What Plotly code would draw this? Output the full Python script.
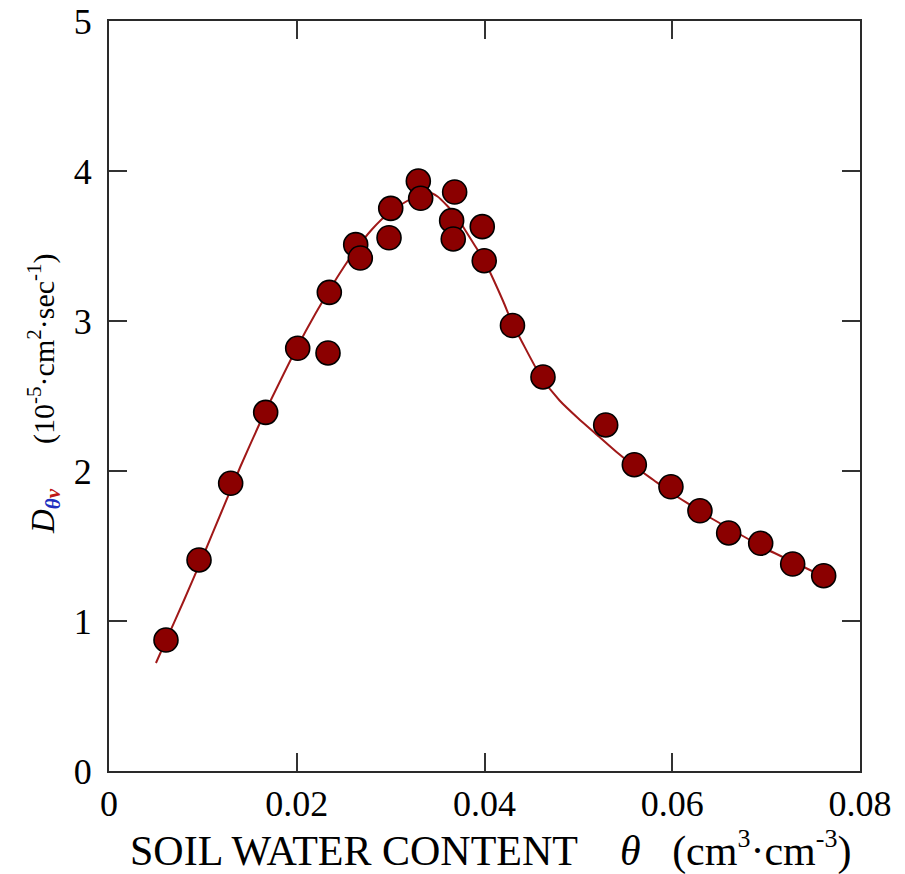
import plotly.graph_objects as go

# Measured points: soil water content (cm3/cm3) vs vapor diffusivity (1e-5 cm2/s)
theta_obs = [0.00607, 0.00959, 0.01296, 0.01669, 0.02010, 0.02333, 0.02347, 0.02628,
             0.02677, 0.03001, 0.02983, 0.03295, 0.03320, 0.03682, 0.03650, 0.03667,
             0.03976, 0.03997, 0.04298, 0.04623, 0.05291, 0.05596, 0.05986, 0.06295,
             0.06601, 0.06942, 0.07283, 0.07613]
d_obs = [0.873, 1.407, 1.918, 2.391, 2.818, 2.787, 3.191, 3.509,
         3.420, 3.751, 3.555, 3.933, 3.818, 3.860, 3.669, 3.547,
         3.629, 3.402, 2.970, 2.627, 2.307, 2.042, 1.895, 1.735,
         1.587, 1.518, 1.380, 1.302]

# Fitted curve
theta_fit = [0.005, 0.006, 0.008, 0.010, 0.012, 0.014, 0.016, 0.018, 0.020, 0.022,
             0.024, 0.026, 0.028, 0.030, 0.032, 0.033, 0.034, 0.035, 0.036, 0.037,
             0.038, 0.039, 0.040, 0.041, 0.042, 0.043, 0.044, 0.046, 0.048, 0.050,
             0.052, 0.054, 0.056, 0.058, 0.060, 0.062, 0.064, 0.066, 0.068, 0.070,
             0.072, 0.074, 0.076]
d_fit = [0.72, 0.86, 1.14, 1.43, 1.73, 2.03, 2.31, 2.57, 2.82, 3.05,
         3.26, 3.45, 3.61, 3.73, 3.81, 3.85, 3.86, 3.83, 3.77, 3.70,
         3.60, 3.50, 3.40, 3.27, 3.13, 2.98, 2.86, 2.63, 2.47, 2.35,
         2.24, 2.13, 2.03, 1.94, 1.85, 1.77, 1.69, 1.62, 1.55, 1.48,
         1.42, 1.36, 1.30]

x_ticks = [0, 0.02, 0.04, 0.06, 0.08]
x_ticktext = ["0", "0.02", "0.04", "0.06", "0.08"]
y_ticks = [0, 1, 2, 3, 4, 5]
y_ticktext = ["0", "1", "2", "3", "4", "5"]

x_title = ("SOIL WATER CONTENT&nbsp;&nbsp;&nbsp;&nbsp;<i>θ</i>&nbsp;&nbsp;&nbsp;"
           "(cm<sup><span style='font-size:26px'>3</span></sup>·cm"
           "<sup><span style='font-size:26px'>-3</span></sup>)")
y_title = ("<i><span style='font-size:33px'>D</span><sub><b>"
           "<span style='color:#2030c0'>θ</span><span style='color:#c01818'>v</span></b></sub></i>"
           "&nbsp;&nbsp;&nbsp;&nbsp;&nbsp;&nbsp;"
           "(10<sup>-5</sup>·cm<sup>2</sup>·sec<sup>-1</sup>)")

SERIF = "Liberation Serif, Times New Roman, serif"
DARKRED = "#8b0000"

fig = go.Figure()
fig.add_trace(go.Scatter(
    x=theta_fit, y=d_fit, mode="lines",
    line=dict(color="#a01818", width=2, shape="spline", smoothing=0.6),
    hoverinfo="skip", showlegend=False))
fig.add_trace(go.Scatter(
    x=theta_obs, y=d_obs, mode="markers",
    marker=dict(size=24, color=DARKRED, line=dict(color="black", width=1.6)),
    showlegend=False))

axis_common = dict(
    showgrid=False, zeroline=False, showline=True, linecolor="#2a2a2a", linewidth=2,
    mirror="allticks", ticks="inside", ticklen=18, tickwidth=2, tickcolor="#333",
    tickfont=dict(family=SERIF, size=36, color="black"), automargin=False,
)

fig.update_layout(
    width=905, height=874,
    margin=dict(l=109, r=45, t=21, b=103),
    paper_bgcolor="white", plot_bgcolor="white",
    xaxis=dict(range=[0, 0.08], tickvals=x_ticks, ticktext=x_ticktext,
               ticklabelstandoff=0, **axis_common),
    yaxis=dict(range=[0, 5], tickvals=y_ticks, ticktext=y_ticktext,
               ticklabelstandoff=8, **axis_common),
    annotations=[
        dict(text=x_title, xref="paper", yref="paper", x=0.5, y=0,
             xanchor="center", yanchor="middle", xshift=6, yshift=-78,
             showarrow=False, font=dict(family=SERIF, size=42, color="black")),
        dict(text=y_title, xref="paper", yref="paper", x=0, y=0.5,
             xanchor="center", yanchor="middle", xshift=-66, yshift=2, textangle=-90,
             showarrow=False, font=dict(family=SERIF, size=30, color="black")),
    ],
)

fig.write_html("out.html")
